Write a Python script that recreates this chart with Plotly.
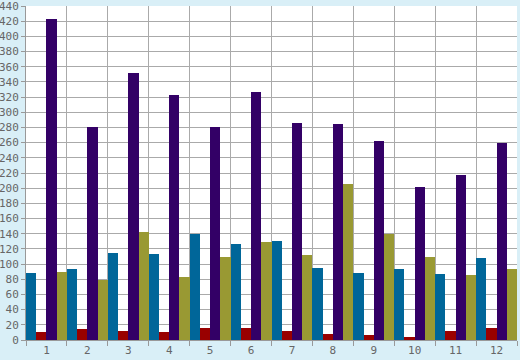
import plotly.graph_objects as go

categories = ["1", "2", "3", "4", "5", "6", "7", "8", "9", "10", "11", "12"]
blue_vals = [88, 93, 114, 113, 140, 126, 131, 95, 88, 93, 87, 108]
red_vals = [10, 14, 12, 10, 16, 16, 12, 8, 7, 4, 12, 16]
purple_vals = [423, 281, 352, 323, 281, 327, 286, 285, 262, 202, 217, 259]
olive_vals = [89, 79, 142, 83, 110, 129, 112, 205, 140, 110, 86, 93]
y_ticks = list(range(0, 441, 20))

fig = go.Figure()
for name, vals, col in [("A", blue_vals, "#006699"), ("B", red_vals, "#990000"),
                        ("C", purple_vals, "#330066"), ("D", olive_vals, "#999933")]:
    fig.add_trace(go.Bar(x=categories, y=vals, name=name, marker=dict(color=col, line=dict(width=0))))

fig.update_layout(
    width=520, height=360,
    margin=dict(l=26, r=3, t=6, b=20, autoexpand=False),
    paper_bgcolor="#d9eff7", plot_bgcolor="#ffffff",
    barmode="group", bargap=0, bargroupgap=0,
    showlegend=False,
    font=dict(family="DejaVu Sans Mono", size=11, color="#666666"),
)
fig.update_xaxes(type="category", tickson="boundaries", ticks="outside", ticklen=5,
                 tickcolor="#999999", showgrid=True, gridcolor="#aaaaaa", gridwidth=1,
                 showline=True, linecolor="#999999", linewidth=1, automargin=False,
                 tickfont=dict(size=11), ticklabeloverflow="allow")
fig.update_yaxes(range=[0, 440], tickvals=y_ticks, ticks="outside", ticklen=4,
                 tickcolor="#999999", showgrid=True, gridcolor="#aaaaaa", gridwidth=1,
                 showline=True, linecolor="#999999", linewidth=1, zeroline=False,
                 automargin=False, ticklabelstandoff=0, tickfont=dict(size=11),
                 ticklabeloverflow="allow")
fig.write_html("out.html", config={"displayModeBar": False},
               post_script="document.body.style.margin='0';document.body.style.background='#d9eff7';")
